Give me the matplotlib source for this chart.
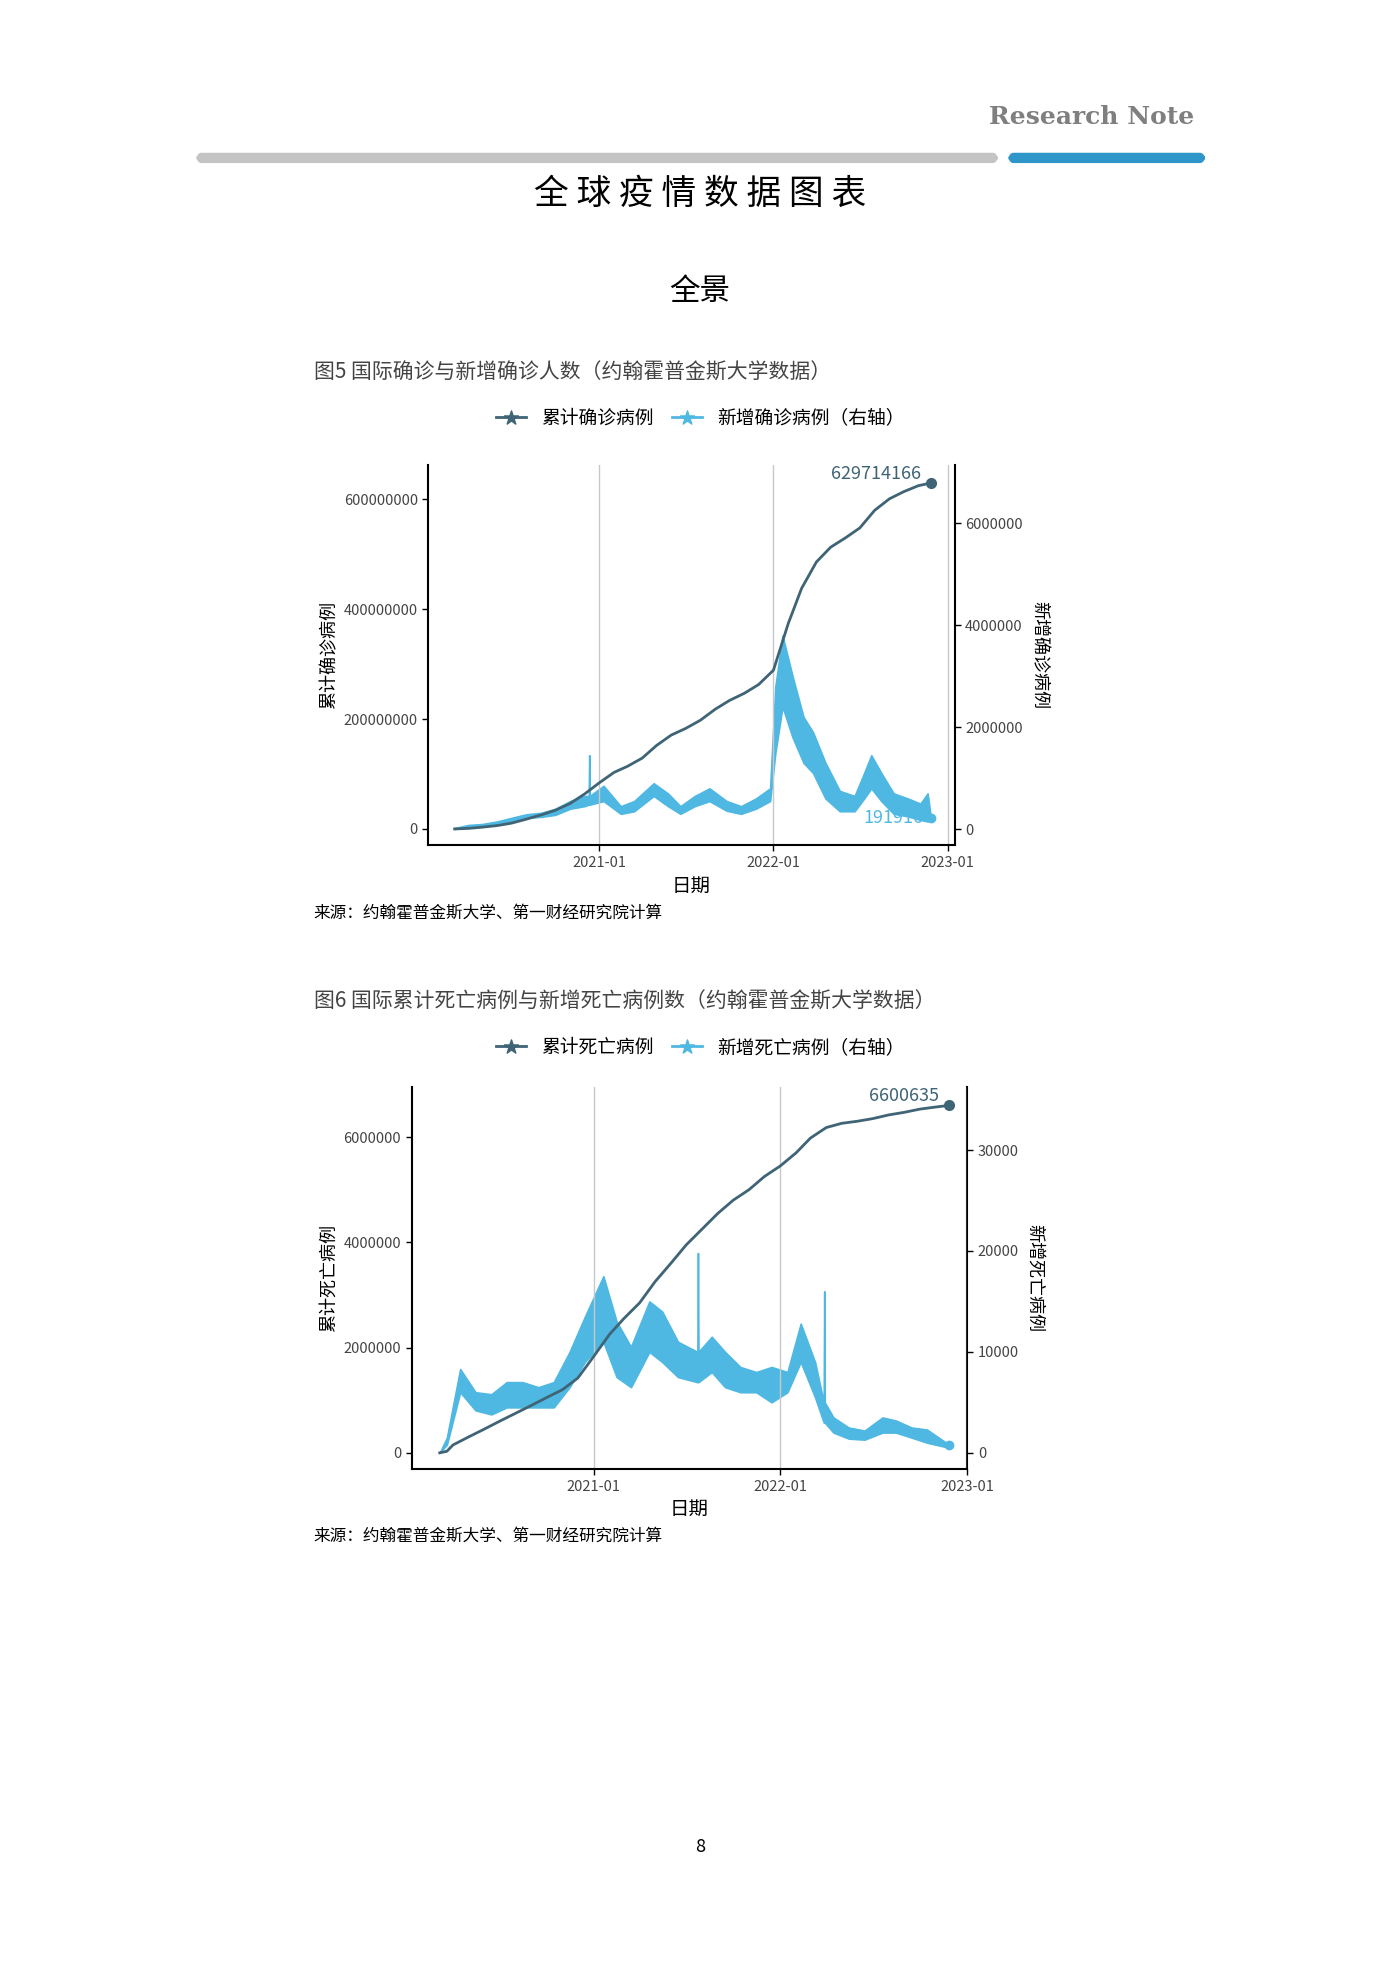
import numpy as np
import pandas as pd
import matplotlib.pyplot as plt
from matplotlib.patches import FancyBboxPatch

plt.rcParams['font.family'] = ['Noto Sans CJK SC', 'DejaVu Sans']

# ---- figure 5 data: cumulative and daily confirmed cases ----
cum_case_dates = ['2020-03-04', '2020-04-01', '2020-05-01', '2020-06-01', '2020-07-01', '2020-08-01',
                  '2020-09-01', '2020-10-01', '2020-11-01', '2020-12-01', '2021-01-01', '2021-02-01',
                  '2021-03-01', '2021-04-01', '2021-05-01', '2021-06-01', '2021-07-01', '2021-08-01',
                  '2021-09-01', '2021-10-01', '2021-11-01', '2021-12-01', '2022-01-01', '2022-02-01',
                  '2022-03-01', '2022-04-01', '2022-05-01', '2022-06-01', '2022-07-01', '2022-08-01',
                  '2022-09-01', '2022-10-01', '2022-11-01', '2022-11-27']
cum_cases = [0.1e6, 1.0e6, 3.3e6, 6.2e6, 10.6e6, 17.8e6,
             25.6e6, 34.0e6, 46.5e6, 63.5e6, 84.0e6, 103e6,
             114e6, 129e6, 152e6, 171e6, 183e6, 198e6,
             218e6, 234e6, 247e6, 263e6, 289e6, 374e6,
             438e6, 486e6, 513e6, 530e6, 548e6, 580e6,
             601e6, 614e6, 625e6, 629714166]

new_case_dates = ['2020-03-04', '2020-04-01', '2020-05-01', '2020-06-01', '2020-07-01', '2020-08-01',
                  '2020-09-01', '2020-10-01', '2020-11-01', '2020-12-01', '2020-12-10', '2020-12-11',
                  '2020-12-12', '2021-01-10', '2021-02-15', '2021-03-15', '2021-04-25', '2021-05-25',
                  '2021-06-20', '2021-07-20', '2021-08-20', '2021-09-25', '2021-10-25', '2021-11-25',
                  '2021-12-25', '2022-01-05', '2022-01-20', '2022-02-10', '2022-03-05', '2022-03-25',
                  '2022-04-20', '2022-05-20', '2022-06-20', '2022-07-10', '2022-07-25', '2022-08-15',
                  '2022-09-10', '2022-10-10', '2022-11-05', '2022-11-20', '2022-11-27']
new_case_hi = [2e4, 8e4, 1.0e5, 1.5e5, 2.2e5, 2.9e5,
               3.2e5, 4.0e5, 5.5e5, 6.5e5, 6.5e5, 1.45e6,
               6.5e5, 8.5e5, 4.5e5, 5.5e5, 9.0e5, 7.0e5,
               4.5e5, 6.5e5, 8.0e5, 5.5e5, 4.5e5, 6.0e5,
               8.0e5, 2.8e6, 3.8e6, 3.0e6, 2.2e6, 1.9e6,
               1.3e6, 7.5e5, 6.5e5, 1.1e6, 1.45e6, 1.1e6,
               7.0e5, 6.0e5, 5.0e5, 7.0e5, 2.2e5]
new_case_lo = [0, 5e4, 7e4, 1.0e5, 1.5e5, 2.2e5,
               2.4e5, 2.8e5, 4.0e5, 4.5e5, 4.8e5, 4.8e5,
               4.8e5, 5.5e5, 3.0e5, 3.5e5, 6.5e5, 4.5e5,
               3.0e5, 4.5e5, 5.5e5, 3.6e5, 3.0e5, 4.0e5,
               5.5e5, 1.5e6, 2.4e6, 1.8e6, 1.3e6, 1.1e6,
               6.0e5, 3.5e5, 3.5e5, 6.0e5, 8.0e5, 5.5e5,
               3.0e5, 2.5e5, 1.8e5, 1.5e5, 2.2e5]

# ---- figure 6 data: cumulative and daily deaths ----
cum_death_dates = ['2020-03-06', '2020-03-20', '2020-04-01', '2020-05-01', '2020-06-01', '2020-07-01',
                   '2020-08-01', '2020-09-01', '2020-10-01', '2020-11-01', '2020-12-01', '2021-01-01',
                   '2021-02-01', '2021-03-01', '2021-04-01', '2021-05-01', '2021-06-01', '2021-07-01',
                   '2021-08-01', '2021-09-01', '2021-10-01', '2021-11-01', '2021-12-01', '2022-01-01',
                   '2022-02-01', '2022-03-01', '2022-04-01', '2022-05-01', '2022-06-01', '2022-07-01',
                   '2022-08-01', '2022-09-01', '2022-10-01', '2022-11-01', '2022-11-27']
cum_deaths = [0, 0.03e6, 0.15e6, 0.30e6, 0.45e6, 0.60e6,
              0.75e6, 0.90e6, 1.05e6, 1.20e6, 1.42e6, 1.83e6,
              2.25e6, 2.55e6, 2.85e6, 3.25e6, 3.60e6, 3.95e6,
              4.25e6, 4.55e6, 4.80e6, 5.00e6, 5.25e6, 5.45e6,
              5.70e6, 5.98e6, 6.18e6, 6.26e6, 6.30e6, 6.35e6,
              6.42e6, 6.47e6, 6.53e6, 6.57e6, 6600635]

new_death_dates = ['2020-03-06', '2020-03-20', '2020-04-15', '2020-05-15', '2020-06-15', '2020-07-15',
                   '2020-08-15', '2020-09-15', '2020-10-15', '2020-11-15', '2020-12-15', '2021-01-20',
                   '2021-02-15', '2021-03-15', '2021-04-20', '2021-05-15', '2021-06-15', '2021-07-23',
                   '2021-07-24', '2021-07-25', '2021-08-20', '2021-09-15', '2021-10-15', '2021-11-15',
                   '2021-12-15', '2022-01-15', '2022-02-10', '2022-03-10', '2022-03-27', '2022-03-28',
                   '2022-03-29', '2022-04-15', '2022-05-15', '2022-06-15', '2022-07-20', '2022-08-15',
                   '2022-09-15', '2022-10-15', '2022-11-27']
new_death_hi = [0, 1500, 8300, 6000, 5800, 7000,
                7000, 6500, 7000, 10000, 13500, 17500,
                13000, 10500, 15000, 14000, 11000, 10000,
                19800, 10000, 11500, 10000, 8500, 8000,
                8500, 8000, 12800, 9000, 5000, 16000,
                5000, 3500, 2500, 2200, 3500, 3200,
                2500, 2300, 800]
new_death_lo = [0, 800, 6000, 4200, 3800, 4500,
                4500, 4500, 4500, 6500, 9000, 11000,
                7500, 6500, 10000, 9000, 7500, 7000,
                7000, 7000, 8000, 6500, 6000, 6000,
                5000, 6000, 9000, 5500, 3000, 3000,
                3000, 2000, 1400, 1300, 2000, 2000,
                1500, 1000, 500]

DARK = '#3f6476'
LIGHT = '#4fb8e2'
GRID = '#c8c8c8'

fig = plt.figure(figsize=(14, 19.8), dpi=100)

# ---- page header ----
fig.text(0.853, 0.941, 'Research Note', ha='right', va='center', family='DejaVu Serif',
         fontsize=18, fontweight='bold', color='#7f7f7f')
fig.patches.append(FancyBboxPatch((0.141, 0.918), 0.571, 0.0045, boxstyle='round,pad=0,rounding_size=0.003',
                                  transform=fig.transFigure, color='#c4c4c4', figure=fig))
fig.patches.append(FancyBboxPatch((0.721, 0.918), 0.139, 0.0045, boxstyle='round,pad=0,rounding_size=0.003',
                                  transform=fig.transFigure, color='#2e96c8', figure=fig))
fig.text(0.5, 0.902, '全 球 疫 情 数 据 图 表', ha='center', va='center', fontsize=25)
fig.text(0.5, 0.853, '全景', ha='center', va='center', fontsize=22)


def panel(rect, caption_y, caption, leg1, leg2, ylab1, ylab2, xlim, ylim1, ylim2,
          cdates, cvals, ndates, nhi, nlo, label_top, label_bot, yt1, yt2):
    fig.text(0.224, caption_y, caption, fontsize=15, color='#444444', va='center')
    ax = fig.add_axes(rect)
    ax2 = ax.twinx()
    ax.set_zorder(ax2.get_zorder() + 1)
    ax.patch.set_visible(False)

    cd = pd.to_datetime(cdates)
    nd = pd.to_datetime(ndates)
    ax2.fill_between(nd, nlo, nhi, color=LIGHT, lw=1.2, edgecolor=LIGHT)
    ax2.plot(nd[-1], nhi[-1], 'o', color=LIGHT, ms=6)
    ax.plot(cd, cvals, color=DARK, lw=2)
    ax.plot(cd[-1], cvals[-1], 'o', color=DARK, ms=7)
    ax.text(cd[-1] - pd.Timedelta(days=20), cvals[-1], label_top, ha='right', va='bottom',
            color=DARK, fontsize=13)
    ax2.text(nd[-1] - pd.Timedelta(days=15), nhi[-1], label_bot, ha='right', va='center',
             color=LIGHT, fontsize=13)

    ticks = pd.to_datetime(['2021-01-01', '2022-01-01', '2023-01-01'])
    for t in ticks:
        ax.axvline(t, color=GRID, lw=1, zorder=0)
    ax.set_xticks(ticks)
    ax.set_xticklabels(['2021-01', '2022-01', '2023-01'], fontsize=10.5, color='#444444')
    ax.set_xlim(pd.to_datetime(xlim[0]), pd.to_datetime(xlim[1]))
    ax.set_ylim(ylim1)
    ax2.set_ylim(ylim2)
    ax.set_yticks(yt1)
    ax.set_yticklabels([str(v) for v in yt1], fontsize=10.5, color='#444444')
    ax2.set_yticks(yt2)
    ax2.set_yticklabels([str(v) for v in yt2], fontsize=10.5, color='#444444')
    ax.set_xlabel('日期', fontsize=14)
    ax.set_ylabel(ylab1, fontsize=13)
    ax2.set_ylabel(ylab2, fontsize=13, rotation=270, labelpad=18)
    for a in (ax, ax2):
        a.spines['top'].set_visible(False)
        a.tick_params(length=4, width=1)
    ax.spines['right'].set_visible(False)
    ax.spines['left'].set_linewidth(1.5)
    ax.spines['bottom'].set_linewidth(1.5)
    ax2.spines['left'].set_visible(False)
    ax2.spines['bottom'].set_visible(False)
    ax2.spines['right'].set_linewidth(1.5)

    h1, = ax.plot([], [], color=DARK, marker='$\u2605$', lw=2, ms=10)
    h2, = ax.plot([], [], color=LIGHT, marker='$\u2605$', lw=2, ms=10)
    fig.legend([h1, h2], [leg1, leg2], loc='center', ncol=2, frameon=False, fontsize=13.5,
               bbox_to_anchor=(0.5, caption_y - 0.023), handlelength=1.6, columnspacing=1.0)
    fig.text(0.224, rect[1] - 0.034, '来源：约翰霍普金斯大学、第一财经研究院计算', fontsize=12,
             va='center')


panel([0.306, 0.573, 0.376, 0.192], 0.812,
      '图5 国际确诊与新增确诊人数（约翰霍普金斯大学数据）', '累计确诊病例', '新增确诊病例（右轴）',
      '累计确诊病例', '新增确诊病例', ('2020-01-09', '2023-01-16'),
      (-30e6, 662e6), (-0.321e6, 7.14e6),
      cum_case_dates, cum_cases, new_case_dates, new_case_hi, new_case_lo,
      '629714166', '191916', [0, 200000000, 400000000, 600000000], [0, 2000000, 4000000, 6000000])

panel([0.294, 0.258, 0.397, 0.193], 0.494,
      '图6 国际累计死亡病例与新增死亡病例数（约翰霍普金斯大学数据）', '累计死亡病例', '新增死亡病例（右轴）',
      '累计死亡病例', '新增死亡病例', ('2020-01-11', '2023-01-02'),
      (-0.31e6, 6.95e6), (-1625, 36250),
      cum_death_dates, cum_deaths, new_death_dates, new_death_hi, new_death_lo,
      '6600635', '', [0, 2000000, 4000000, 6000000], [0, 10000, 20000, 30000])

fig.text(0.5, 0.067, '8', ha='center', va='center', fontsize=13)

fig.savefig('out.png', dpi=100)
